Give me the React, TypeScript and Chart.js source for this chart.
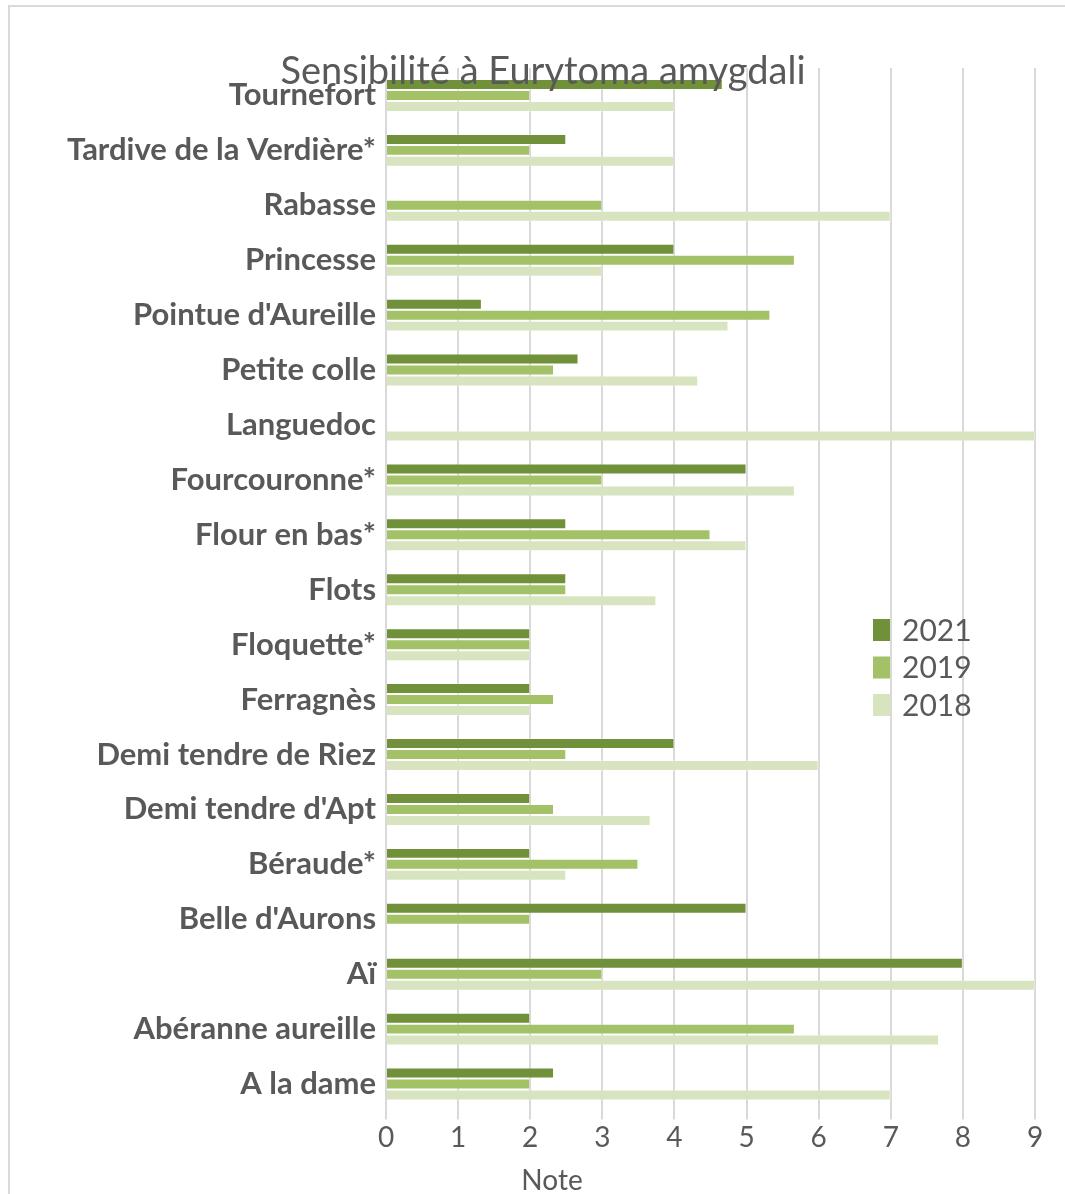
import React, { useEffect, useRef } from "react";
import { Chart, registerables } from "chart.js";

Chart.register(...registerables);

const categories = [
  "Tournefort",
  "Tardive de la Verdière*",
  "Rabasse",
  "Princesse",
  "Pointue d'Aureille",
  "Petite colle",
  "Languedoc",
  "Fourcouronne*",
  "Flour en bas*",
  "Flots",
  "Floquette*",
  "Ferragnès",
  "Demi tendre de Riez",
  "Demi tendre d'Apt",
  "Béraude*",
  "Belle d'Aurons",
  "Aï",
  "Abéranne aureille",
  "A la dame",
];

const values2021 = [4.67, 2.5, null, 4, 1.33, 2.67, null, 5, 2.5, 2.5, 2, 2, 4, 2, 2, 5, 8, 2, 2.33];
const values2019 = [2, 2, 3, 5.67, 5.33, 2.33, null, 3, 4.5, 2.5, 2, 2.33, 2.5, 2.33, 3.5, 2, 3, 5.67, 2];
const values2018 = [4, 4, 7, 3, 4.75, 4.33, 9, 5.67, 5, 3.75, 2, 2, 6, 3.67, 2.5, null, 9, 7.67, 7];

const seriesNames = ["2021", "2019", "2018"];
const seriesColors = ["#71903A", "#A3C167", "#D8E4BF"];

const xMin = 0;
const xMax = 9;
const xStep = 1;

const chartTitle = "Sensibilité à Eurytoma amygdali";
const xAxisTitle = "Note";

const TEXT = "#595959";
const FONT = "Lato, 'Open Sans', sans-serif";

const overlayPlugin = {
  id: "overlayTexts",
  afterDraw(chart: any) {
    const ctx = chart.ctx;
    ctx.save();
    // title
    ctx.fillStyle = TEXT;
    ctx.font = `400 38px ${FONT}`;
    ctx.textAlign = "center";
    ctx.textBaseline = "middle";
    ctx.fillText(chartTitle, 543, 72);
    // x-axis title
    ctx.font = `400 28px ${FONT}`;
    ctx.fillText(xAxisTitle, 552, 1181);
    // legend
    const ds = chart.data.datasets;
    const x0 = 873;
    const y0 = 630;
    const gap = 37.5;
    ctx.textAlign = "left";
    ctx.font = `400 30px ${FONT}`;
    ds.forEach((d: any, i: number) => {
      const cy = y0 + i * gap;
      ctx.fillStyle = d.backgroundColor;
      ctx.fillRect(x0, cy - 11, 17, 22);
      ctx.fillStyle = TEXT;
      ctx.fillText(d.label, 902, cy + 1);
    });
    ctx.restore();
  },
};

export default function App() {
  const canvasRef = useRef<HTMLCanvasElement | null>(null);

  useEffect(() => {
    if (!canvasRef.current) return;
    const seriesValues = [values2021, values2019, values2018];
    const chart = new Chart(canvasRef.current, {
      type: "bar",
      data: {
        labels: categories,
        datasets: seriesNames.map((name, i) => ({
          label: name,
          data: seriesValues[i],
          backgroundColor: seriesColors[i],
          borderColor: "rgba(255,255,255,0.35)",
          borderWidth: 1,
          categoryPercentage: 0.6,
          barPercentage: 1.0,
        })),
      },
      options: {
        indexAxis: "y",
        animation: false,
        responsive: false,
        maintainAspectRatio: false,
        layout: { padding: { top: 68, right: 30, bottom: 0, left: 0 } },
        plugins: {
          legend: { display: false },
          title: { display: false },
          tooltip: { enabled: false },
        },
        scales: {
          x: {
            type: "linear",
            min: xMin,
            max: xMax,
            ticks: {
              stepSize: xStep,
              color: TEXT,
              font: { family: FONT, size: 28 },
              padding: 2,
            },
            grid: {
              color: "#D9D9D9",
              lineWidth: 2,
              drawTicks: true,
              tickLength: 8,
            },
            border: { display: false },
            afterFit(scale: any) {
              scale.height = 82.5;
            },
          },
          y: {
            type: "category",
            ticks: {
              color: TEXT,
              font: { family: FONT, size: 31, weight: "bold" },
              padding: 10,
              autoSkip: false,
            },
            grid: { display: false, drawTicks: false },
            border: { display: false },
            afterFit(scale: any) {
              scale.width = 386;
            },
          },
        },
      },
      plugins: [overlayPlugin],
    } as any);
    return () => chart.destroy();
  }, []);

  return (
    <div
      style={{
        position: "absolute",
        left: 0,
        top: 0,
        width: 1065,
        height: 1194,
        overflow: "hidden",
        background: "#fff",
      }}
    >
      <canvas ref={canvasRef} width={1065} height={1194} style={{ display: "block" }} />
      <div
        style={{
          position: "absolute",
          left: 8,
          top: 5,
          width: 1200,
          height: 1400,
          borderTop: "2px solid #D9D9D9",
          borderLeft: "2px solid #D9D9D9",
          pointerEvents: "none",
        }}
      />
    </div>
  );
}
